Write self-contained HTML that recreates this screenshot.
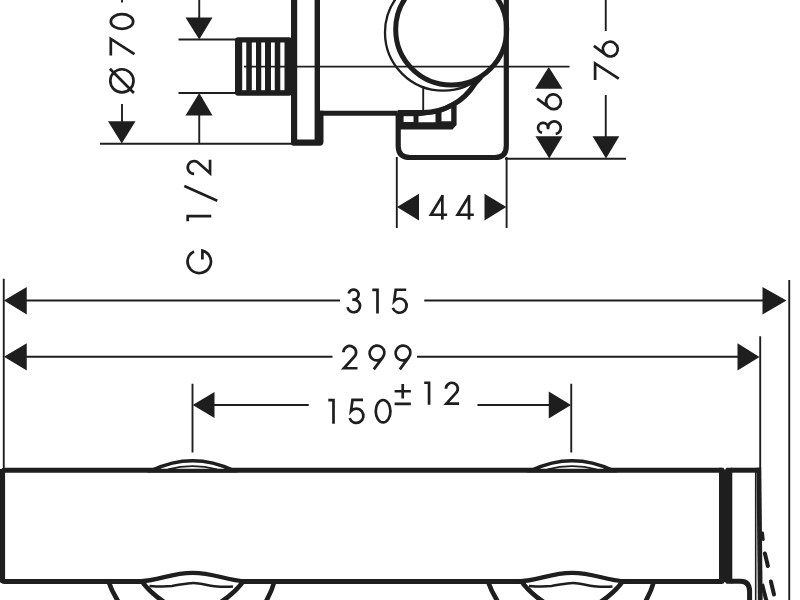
<!DOCTYPE html>
<html><head><meta charset="utf-8"><title>drawing</title>
<style>
html,body{margin:0;padding:0;background:#fff;}
body{width:800px;height:600px;overflow:hidden;}
svg{display:block;}
text{font-family:"Liberation Sans",sans-serif;fill:#1e1e1e;}
</style></head><body>
<svg width="800" height="600" viewBox="0 0 800 600">
<rect width="800" height="600" fill="#fff"/>
<line x1="122" y1="-5" x2="122" y2="2.5" stroke="#1e1e1e" stroke-width="1.9"/>
<line x1="122" y1="104" x2="122" y2="123" stroke="#1e1e1e" stroke-width="1.9"/>
<polygon points="108,121.25 135.5,121.25 121.75,143.5" fill="#1e1e1e"/>
<line x1="100" y1="143.75" x2="293" y2="143.75" stroke="#1e1e1e" stroke-width="1.9"/>
<path d="M12.85,-24.2 A11.6,11.6 0 1 0 12.85,-1 A11.6,11.6 0 1 0 12.85,-24.2 Z" transform="translate(134.5 93.7) rotate(-90)" fill="none" stroke="#1e1e1e" stroke-width="2.7" stroke-miterlimit="6"/>
<path d="M0.7,-0.6 L25,-24.6" transform="translate(134.5 93.7) rotate(-90)" fill="none" stroke="#1e1e1e" stroke-width="2.7" stroke-miterlimit="6"/>
<path d="M0,-23.7 H16.6 L1.4,0" transform="translate(134.5 55.5) rotate(-90)" fill="none" stroke="#1e1e1e" stroke-width="2.7" stroke-miterlimit="6"/>
<path d="M8.7,-23.7 A7.35,11.2 0 1 0 8.7,-1.3 A7.35,11.2 0 1 0 8.7,-23.7 Z" transform="translate(134.5 30.2) rotate(-90)" fill="none" stroke="#1e1e1e" stroke-width="2.7" stroke-miterlimit="6"/>
<line x1="178.5" y1="39.5" x2="237" y2="39.5" stroke="#1e1e1e" stroke-width="1.9"/>
<line x1="178.5" y1="93" x2="237" y2="93" stroke="#1e1e1e" stroke-width="1.9"/>
<line x1="199.25" y1="-5" x2="199.25" y2="19" stroke="#1e1e1e" stroke-width="1.9"/>
<polygon points="185.5,17.5 212.5,17.5 199.25,39.5" fill="#1e1e1e"/>
<polygon points="185.5,115.5 212.5,115.5 199.25,93" fill="#1e1e1e"/>
<line x1="199.25" y1="114" x2="199.25" y2="143.75" stroke="#1e1e1e" stroke-width="1.9"/>
<path d="M22.3,-19.4 A11.4,11.7 0 1 0 23.1,-11 H14.2" transform="translate(213.4 273.75) rotate(-90)" fill="none" stroke="#1e1e1e" stroke-width="2.7" stroke-miterlimit="6"/>
<path d="M0,-23.6 H5.2 V0" transform="translate(211.3 221.25) rotate(-90)" fill="none" stroke="#1e1e1e" stroke-width="2.7" stroke-miterlimit="6"/>
<path d="M0.6,6 L15.2,-27" transform="translate(211.3 201.3) rotate(-90)" fill="none" stroke="#1e1e1e" stroke-width="2.7" stroke-miterlimit="6"/>
<path d="M1.4,-17.2 A6.35,6.35 0 1 1 12.24,-12.7 L1.9,-1.25 H15.5" transform="translate(211.3 175.2) rotate(-90)" fill="none" stroke="#1e1e1e" stroke-width="2.7" stroke-miterlimit="6"/>
<rect x="235" y="37.25" width="57" height="58.5" rx="3" fill="#1e1e1e"/>
<rect x="242.2" y="42.5" width="4.05" height="47.7" fill="#fff"/>
<rect x="251.8" y="42.5" width="4.2" height="47.7" fill="#fff"/>
<rect x="261.25" y="42.5" width="3.75" height="47.7" fill="#fff"/>
<rect x="271" y="42.5" width="3.75" height="47.7" fill="#fff"/>
<rect x="280.3" y="42.5" width="4.2" height="47.7" fill="#fff"/>
<path d="M291,-5 V143.6 Q291,145.7 293,145.7 H319.5 Q323.5,145.7 323.5,141.7 V110.7 H320 V-5 Z" fill="#1e1e1e"/>
<rect x="297.2" y="-5" width="17.4" height="144.5" fill="#fff"/>
<path d="M319,113.25 H397.8" fill="none" stroke="#1e1e1e" stroke-width="5.2" />
<circle cx="443.1" cy="32.6" r="58.1" fill="none" stroke="#1e1e1e" stroke-width="2.3"/>
<circle cx="451.2" cy="29.6" r="55.5" fill="#fff" stroke="#1e1e1e" stroke-width="5"/>
<line x1="423.2" y1="86" x2="423.2" y2="111" stroke="#1e1e1e" stroke-width="1.9"/>
<polygon points="398,113 423,113 440,108.5 451,103 456.6,100 456.6,125 452.5,129.6 398,129.6" fill="#1e1e1e"/>
<rect x="403.6" y="116.2" width="9.9" height="5.8" fill="#fff"/>
<polygon points="418.5,116.2 435.5,114 435.5,122.3 418.5,122.3" fill="#fff"/>
<polygon points="441.5,112.5 451.2,108 451.2,121.2 441.5,121.2" fill="#fff"/>
<path d="M397.8,112.6 H423 A61.2,61.2 0 0 0 474.9,83.6 L481,77" fill="none" stroke="#1e1e1e" stroke-width="5.2" />
<path d="M398.2,113 V146 Q398.2,157.5 410,157.5 H495 Q506.3,157.5 506.3,146 V-5" fill="none" stroke="#1e1e1e" stroke-width="5.2" />
<line x1="244" y1="66.6" x2="569.5" y2="66.6" stroke="#1e1e1e" stroke-width="1.9"/>
<line x1="396.8" y1="157" x2="396.8" y2="228" stroke="#1e1e1e" stroke-width="1.9"/>
<line x1="506.6" y1="157" x2="506.6" y2="228" stroke="#1e1e1e" stroke-width="1.9"/>
<polygon points="397,207 419,193.75 419,220.5" fill="#1e1e1e"/>
<polygon points="506.3,207 484.5,193.75 484.5,220.5" fill="#1e1e1e"/>
<path d="M13.6,0 V-24.6" transform="translate(428.75 219.6)" fill="none" stroke="#1e1e1e" stroke-width="2.7" stroke-miterlimit="6"/>
<path d="M14,-24.2 L2.2,-4.85 H18.4" transform="translate(428.75 219.6)" fill="none" stroke="#1e1e1e" stroke-width="2.7" stroke-miterlimit="6"/>
<path d="M13.6,0 V-24.6" transform="translate(455.4 219.6)" fill="none" stroke="#1e1e1e" stroke-width="2.7" stroke-miterlimit="6"/>
<path d="M14,-24.2 L2.2,-4.85 H18.4" transform="translate(455.4 219.6)" fill="none" stroke="#1e1e1e" stroke-width="2.7" stroke-miterlimit="6"/>
<line x1="505" y1="158.75" x2="626" y2="158.75" stroke="#1e1e1e" stroke-width="1.9"/>
<polygon points="535,88.75 562.5,88.75 548.75,67" fill="#1e1e1e"/>
<polygon points="535.5,136.25 562.5,136.25 549.25,158.5" fill="#1e1e1e"/>
<path d="M2.7,-20 A5,5 0 1 1 7.6,-13.95" transform="translate(562 135.5) rotate(-90)" fill="none" stroke="#1e1e1e" stroke-width="2.7" stroke-miterlimit="6"/>
<path d="M6.3,-13.95 H7.6 A6.35,6.35 0 1 1 1.5,-6.3" transform="translate(562 135.5) rotate(-90)" fill="none" stroke="#1e1e1e" stroke-width="2.7" stroke-miterlimit="6"/>
<path d="M11.7,-24.9 L2.72,-12.87 A7.25,7.25 0 1 0 14.28,-4.13 A7.25,7.25 0 1 0 2.72,-12.87" transform="translate(562 110.3) rotate(-90)" fill="none" stroke="#1e1e1e" stroke-width="2.7" stroke-miterlimit="6"/>
<line x1="605.75" y1="-5" x2="605.75" y2="31" stroke="#1e1e1e" stroke-width="1.9"/>
<line x1="605.75" y1="95" x2="605.75" y2="138" stroke="#1e1e1e" stroke-width="1.9"/>
<polygon points="592.5,136.25 619.25,136.25 606,158.5" fill="#1e1e1e"/>
<path d="M0,-23.7 H16.6 L1.4,0" transform="translate(618.8 80) rotate(-90)" fill="none" stroke="#1e1e1e" stroke-width="2.7" stroke-miterlimit="6"/>
<path d="M11.7,-24.9 L2.72,-12.87 A7.25,7.25 0 1 0 14.28,-4.13 A7.25,7.25 0 1 0 2.72,-12.87" transform="translate(618.8 57.6) rotate(-90)" fill="none" stroke="#1e1e1e" stroke-width="2.7" stroke-miterlimit="6"/>
<line x1="3.75" y1="278.75" x2="3.75" y2="470" stroke="#1e1e1e" stroke-width="1.9"/>
<line x1="789.25" y1="280" x2="789.25" y2="605" stroke="#1e1e1e" stroke-width="1.9"/>
<line x1="760.2" y1="336.25" x2="760.2" y2="468" stroke="#1e1e1e" stroke-width="1.9"/>
<polygon points="4,300.5 26.75,287 26.75,314.5" fill="#1e1e1e"/>
<polygon points="786.5,300.5 762.5,287 762.5,314.5" fill="#1e1e1e"/>
<line x1="26" y1="300.5" x2="340" y2="300.5" stroke="#1e1e1e" stroke-width="1.9"/>
<line x1="424.25" y1="300.5" x2="763" y2="300.5" stroke="#1e1e1e" stroke-width="1.9"/>
<polygon points="4,356.75 26.75,343.25 26.75,370.5" fill="#1e1e1e"/>
<polygon points="759.5,356.9 737.5,343.25 737.5,370.5" fill="#1e1e1e"/>
<line x1="26" y1="356.75" x2="332.5" y2="356.75" stroke="#1e1e1e" stroke-width="1.9"/>
<line x1="417" y1="356.75" x2="738" y2="356.75" stroke="#1e1e1e" stroke-width="1.9"/>
<line x1="192.5" y1="383.75" x2="192.5" y2="452.5" stroke="#1e1e1e" stroke-width="1.9"/>
<line x1="571.25" y1="383.75" x2="571.25" y2="452.5" stroke="#1e1e1e" stroke-width="1.9"/>
<polygon points="192.7,405 214.5,392 214.5,418" fill="#1e1e1e"/>
<polygon points="571,405 548.75,391.5 548.75,418.5" fill="#1e1e1e"/>
<line x1="214" y1="405" x2="308.75" y2="405" stroke="#1e1e1e" stroke-width="1.9"/>
<line x1="477.5" y1="405" x2="549.5" y2="405" stroke="#1e1e1e" stroke-width="1.9"/>
<path d="M2.7,-20 A5,5 0 1 1 7.6,-13.95" transform="translate(346 313.5)" fill="none" stroke="#1e1e1e" stroke-width="2.7" stroke-miterlimit="6"/>
<path d="M6.3,-13.95 H7.6 A6.35,6.35 0 1 1 1.5,-6.3" transform="translate(346 313.5)" fill="none" stroke="#1e1e1e" stroke-width="2.7" stroke-miterlimit="6"/>
<path d="M0,-23.6 H5.2 V0" transform="translate(372.3 313.5)" fill="none" stroke="#1e1e1e" stroke-width="2.7" stroke-miterlimit="6"/>
<path d="M15,-23.75 H4.5 L3.0,-12.6 A7.1,7.1 0 1 1 1.6,-5.6" transform="translate(391.2 313.5)" fill="none" stroke="#1e1e1e" stroke-width="2.7" stroke-miterlimit="6"/>
<path d="M1.4,-17.2 A6.35,6.35 0 1 1 12.24,-12.7 L1.9,-1.25 H15.5" transform="translate(342 369.5)" fill="none" stroke="#1e1e1e" stroke-width="2.7" stroke-miterlimit="6"/>
<path d="M5.3,-0.1 L14.28,-12.13 A7.25,7.25 0 1 0 2.72,-20.87 A7.25,7.25 0 1 0 14.28,-12.13" transform="translate(368.5 369.5)" fill="none" stroke="#1e1e1e" stroke-width="2.7" stroke-miterlimit="6"/>
<path d="M5.3,-0.1 L14.28,-12.13 A7.25,7.25 0 1 0 2.72,-20.87 A7.25,7.25 0 1 0 14.28,-12.13" transform="translate(394.5 369.5)" fill="none" stroke="#1e1e1e" stroke-width="2.7" stroke-miterlimit="6"/>
<path d="M0,-23.6 H5.2 V0" transform="translate(328.3 423.7)" fill="none" stroke="#1e1e1e" stroke-width="2.7" stroke-miterlimit="6"/>
<path d="M15,-23.75 H4.5 L3.0,-12.6 A7.1,7.1 0 1 1 1.6,-5.6" transform="translate(348 423.7)" fill="none" stroke="#1e1e1e" stroke-width="2.7" stroke-miterlimit="6"/>
<path d="M8.7,-23.7 A7.35,11.2 0 1 0 8.7,-1.3 A7.35,11.2 0 1 0 8.7,-23.7 Z" transform="translate(374.4 423.7)" fill="none" stroke="#1e1e1e" stroke-width="2.7" stroke-miterlimit="6"/>
<path d="M0,-14.5 H17.4 M8.7,-22.3 V-6.8 M0,-1 H17.4" transform="translate(394.6 404.8) scale(0.935)" fill="none" stroke="#1e1e1e" stroke-width="2.8877" stroke-miterlimit="6"/>
<path d="M0,-23.6 H5.2 V0" transform="translate(424.2 404.8) scale(0.935)" fill="none" stroke="#1e1e1e" stroke-width="2.8877" stroke-miterlimit="6"/>
<path d="M1.4,-17.2 A6.35,6.35 0 1 1 12.24,-12.7 L1.9,-1.25 H15.5" transform="translate(444.6 404.8) scale(0.935)" fill="none" stroke="#1e1e1e" stroke-width="2.8877" stroke-miterlimit="6"/>
<path d="M722,470.2 H4.6 Q2.6,470.2 2.6,472.2 V579.4 Q2.6,581.4 4.6,581.4 H722" fill="none" stroke="#1e1e1e" stroke-width="5" />
<rect x="0" y="469" width="4" height="113.5" fill="#1e1e1e"/>
<path d="M148,470.6 L152,470.4 Q192.6,451.1 233.2,470.4 L237,470.6 Z" fill="#fff" stroke="#1e1e1e" stroke-width="3.7" stroke-linejoin="round"/>
<path d="M168,469.4 Q192.6,462.8 217,469.4" fill="none" stroke="#1e1e1e" stroke-width="1.8" />
<path d="M140,581.4 C160,580.5 170,572.8 192.6,572.8 C215,572.8 225,580.5 245,581.4 L221.5,602 L163.5,602 Z" fill="#fff"/>
<path d="M138,581.4 C160,580.8 170,572.8 192.6,572.8 C215,572.8 225,580.8 247,581.4" fill="none" stroke="#1e1e1e" stroke-width="4.2" />
<path d="M149.5,585.9 C158,586.6 166,586.6 172,586 C180,585 186,583 193.4,583 C201,583 207,585.4 214.5,586.2 C221,586.9 227,587 233,586.6" fill="none" stroke="#1e1e1e" stroke-width="2.5" />
<path d="M141.4,580.5 Q149,592 165.5,603" fill="none" stroke="#1e1e1e" stroke-width="4.8" />
<path d="M243.8,580.5 Q236,592 219.7,603" fill="none" stroke="#1e1e1e" stroke-width="4.8" />
<path d="M108.3,581 Q112,592 119.2,603" fill="none" stroke="#1e1e1e" stroke-width="4.6" />
<path d="M274.6,581 Q271.5,592 265.1,603" fill="none" stroke="#1e1e1e" stroke-width="4.6" />
<path d="M527.5,470.6 L531.5,470.4 Q572.1,451.1 612.7,470.4 L616.5,470.6 Z" fill="#fff" stroke="#1e1e1e" stroke-width="3.7" stroke-linejoin="round"/>
<path d="M547.5,469.4 Q572.1,462.8 596.5,469.4" fill="none" stroke="#1e1e1e" stroke-width="1.8" />
<path d="M519.5,581.4 C539.5,580.5 549.5,572.8 572.1,572.8 C594.5,572.8 604.5,580.5 624.5,581.4 L601,602 L543,602 Z" fill="#fff"/>
<path d="M517.5,581.4 C539.5,580.8 549.5,572.8 572.1,572.8 C594.5,572.8 604.5,580.8 626.5,581.4" fill="none" stroke="#1e1e1e" stroke-width="4.2" />
<path d="M529,585.9 C537.5,586.6 545.5,586.6 551.5,586 C559.5,585 565.5,583 572.9,583 C580.5,583 586.5,585.4 594,586.2 C600.5,586.9 606.5,587 612.5,586.6" fill="none" stroke="#1e1e1e" stroke-width="2.5" />
<path d="M520.9,580.5 Q528.5,592 545,603" fill="none" stroke="#1e1e1e" stroke-width="4.8" />
<path d="M623.3,580.5 Q615.5,592 599.2,603" fill="none" stroke="#1e1e1e" stroke-width="4.8" />
<path d="M487.8,581 Q491.5,592 498.7,603" fill="none" stroke="#1e1e1e" stroke-width="4.6" />
<path d="M654.1,581 Q651,592 644.6,603" fill="none" stroke="#1e1e1e" stroke-width="4.6" />
<polygon points="719,467.7 723.4,467.7 724.9,470 726.4,467.7 732.3,467.7 732.3,583.8 726.4,583.8 724.9,581.8 723.4,583.8 719,583.8" fill="#1e1e1e"/>
<path d="M731,470.2 H760" fill="none" stroke="#1e1e1e" stroke-width="5" />
<line x1="755.7" y1="468" x2="755.7" y2="605" stroke="#1e1e1e" stroke-width="1.6"/>
<path d="M758.9,467.7 L760.3,605" fill="none" stroke="#1e1e1e" stroke-width="4.8" />
<path d="M731,581.2 H740.5 Q749.6,581.2 749.6,591.5 V605" fill="none" stroke="#1e1e1e" stroke-width="5" />
<path d="M762.6,533 L763.3,539.5" fill="none" stroke="#1e1e1e" stroke-width="2.8" stroke-linecap="round"/>
<path d="M764.9,553.5 L767.9,566" fill="none" stroke="#1e1e1e" stroke-width="4" stroke-linecap="round"/>
<path d="M770.9,581.5 L774,594.5" fill="none" stroke="#1e1e1e" stroke-width="4" stroke-linecap="round"/>
<path d="M762,584 L766.7,602" fill="none" stroke="#1e1e1e" stroke-width="4" />
</svg>
</body></html>
